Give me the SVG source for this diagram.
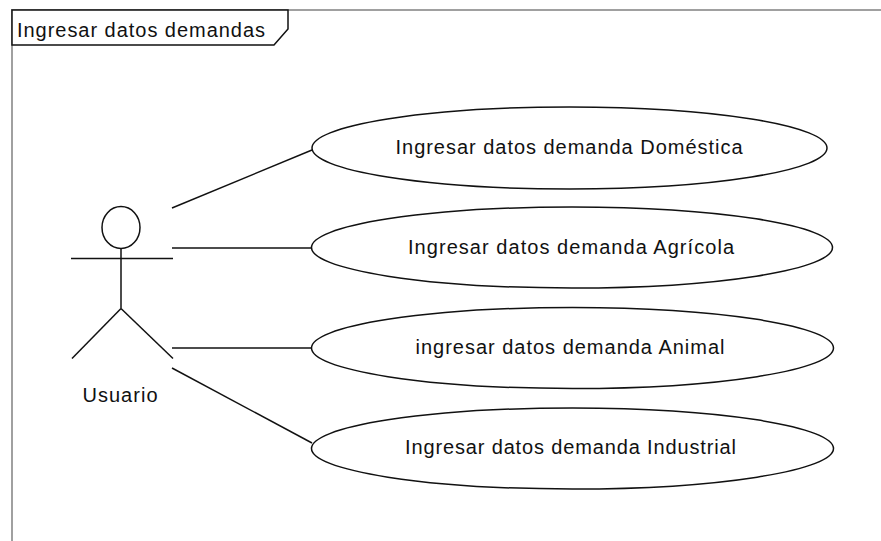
<svg xmlns="http://www.w3.org/2000/svg" width="881" height="541" viewBox="0 0 881 541">
<style>
.ln{stroke:#111;stroke-width:1.5;fill:none}
.uc{stroke:#111;stroke-width:1.5;fill:#fff}
.frame{stroke:#a0a0a0;stroke-width:2;fill:none}
.t{font-family:"Liberation Sans",Arial,sans-serif;font-size:20px;fill:#111}
.tm{text-anchor:middle}
</style>
<rect x="0" y="0" width="881" height="541" fill="#fff"/>
<g id="frame">
<path class="frame" d="M12,541 V10 H881"/>
<path d="M12,10 H288 V29 L274,45 H12 Z" fill="#fff" stroke="#111" stroke-width="1.5"/>
<text class="t" x="17" y="37" textLength="248" lengthAdjust="spacing">Ingresar datos demandas</text>
</g>
<g id="connectors">
<line class="ln" x1="172" y1="208" x2="312" y2="150"/>
<line class="ln" x1="172" y1="248" x2="312" y2="248"/>
<line class="ln" x1="172" y1="348" x2="312" y2="348"/>
<line class="ln" x1="172" y1="368" x2="312" y2="443"/>
</g>
<g id="actor-usuario">
<ellipse class="ln" cx="121" cy="227.5" rx="19" ry="21"/>
<line class="ln" x1="71" y1="258.5" x2="173" y2="258.5"/>
<line class="ln" x1="121" y1="248.5" x2="121" y2="308.5"/>
<line class="ln" x1="121" y1="308.5" x2="72" y2="358.5"/>
<line class="ln" x1="121" y1="308.5" x2="173" y2="358.5"/>
<text class="t tm" x="120" y="402" textLength="75" lengthAdjust="spacing">Usuario</text>
</g>
<g id="uc-domestica">
<ellipse class="uc" cx="569.5" cy="148" rx="257.5" ry="41"/>
<text class="t tm" x="569" y="154" textLength="347" lengthAdjust="spacing">Ingresar datos demanda Doméstica</text>
</g>
<g id="uc-agricola">
<ellipse class="uc" cx="572" cy="247.5" rx="260.5" ry="40.5"/>
<text class="t tm" x="571" y="253.5" textLength="326" lengthAdjust="spacing">Ingresar datos demanda Agrícola</text>
</g>
<g id="uc-animal">
<ellipse class="uc" cx="572.5" cy="348" rx="261" ry="40.5"/>
<text class="t tm" x="570" y="354" textLength="309" lengthAdjust="spacing">ingresar datos demanda Animal</text>
</g>
<g id="uc-industrial">
<ellipse class="uc" cx="572.5" cy="448.5" rx="261" ry="40.5"/>
<text class="t tm" x="570.5" y="454" textLength="331" lengthAdjust="spacing">Ingresar datos demanda Industrial</text>
</g>
</svg>
